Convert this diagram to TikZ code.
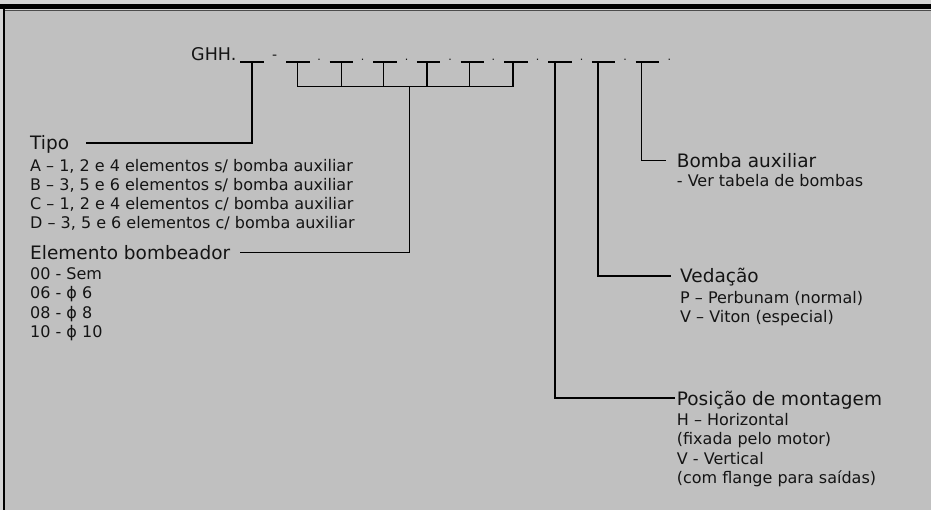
\documentclass[tikz,border=0pt]{standalone}
\usepackage{fontspec}
\setmainfont{DejaVu Sans}
\usetikzlibrary{positioning}
\definecolor{panel}{RGB}{192,192,192}
\definecolor{frame}{RGB}{212,212,212}
\definecolor{ink}{RGB}{20,20,20}

\tikzset{
  conn/.style={line width=1.6pt},
  head/.style={inner sep=0pt, text=ink, font=\fontsize{18.5}{20}\selectfont,
    text height=13.5pt, text depth=0pt, anchor=base west},
  item/.style={inner sep=0pt, text=ink, font=\fontsize{16}{19}\selectfont, anchor=base west},
  sep/.style={inner sep=0pt, text=ink, font=\fontsize{14}{15}\selectfont, anchor=base},
}

\begin{document}
\begin{tikzpicture}[x=1pt,y=-1pt]
\useasboundingbox (0,0) rectangle (931,510);
% window frame
\fill[frame] (0,0) rectangle (931,510);
\fill[panel] (5,10) rectangle (931,510);
\fill[black] (0,4.3) rectangle (931,9.3);
\draw[black!70, line width=1pt] (5,10.5) -- (931,10.5);
\fill[black] (3,9.3) rectangle (5,510);

% code row
\node[inner sep=0pt, text=ink, font=\fontsize{17.5}{18}\selectfont, anchor=base west] (ghh) at (191,61) {GHH.};
\node[sep] (dash) at (274.7,59.5) {-};
\foreach \x [count=\i] in {319,362.7,406.7,450,493.3,537.5,581.7,625,669.3}
  \node[sep, font=\fontsize{11}{12}\selectfont] (dot\i) at (\x,60.5) {.};
\foreach \x [count=\i] in {240,286,329.5,373,416.8,460.5,504.3,548,591.8,635.5}
  \coordinate (slot\i) at (\x,62.3);
\foreach \x [count=\i] in {251.7,297.3,341.3,383.3,426.7,469.3,513,555,598,641.3}
  \coordinate (stem\i) at (\x,62.3);
\foreach \i in {1,...,10}
  \draw[conn] (slot\i) -- ++(23.5,0);
\coordinate (bar) at (409.3,86.7);
\foreach \i in {2,...,7}
  \draw[conn] (stem\i) -- (stem\i |- bar);
\draw[conn] (stem2 |- bar) -- (stem7 |- bar);

% left labels
\node[head] (tipo) at (30,150) {Tipo};
\foreach \t [count=\i] in {{A – 1, 2 e 4 elementos s/ bomba auxiliar},
    {B – 3, 5 e 6 elementos s/ bomba auxiliar},
    {C – 1, 2 e 4 elementos c/ bomba auxiliar},
    {D – 3, 5 e 6 elementos c/ bomba auxiliar}}
  \node[item] (tipo\i) at (30,171.5+19*\i-19) {\t};
\node[head] (elem) at (30,259.3) {Elemento bombeador};
\foreach \t [count=\i] in {00 - Sem, 06 - ϕ 6, 08 - ϕ 8, 10 - ϕ 10}
  \node[item] (elem\i) at (30,279.3+19.5*\i-19.5) {\t};

% right labels
\node[head] (bomba) at (676.7,167.3) {Bomba auxiliar};
\node[item] (bomba1) at (676.7,187) {- Ver tabela de bombas};
\node[head] (vedacao) at (680,282.7) {Vedação};
\node[item] (vedacao1) at (680,303.5) {P – Perbunam (normal)};
\node[item] (vedacao2) at (680,322.5) {V – Viton (especial)};
\node[head] (posicao) at (676.7,405) {Posição de montagem};
\foreach \t [count=\i] in {H – Horizontal, (fixada pelo motor), V - Vertical, (com flange para saídas)}
  \node[item] (posicao\i) at (676.7,425.5+19.3*\i-19.3) {\t};

% connectors
\draw[conn] (stem1) |- ([xshift=17pt]tipo.east);
\draw[conn] (bar) |- ([xshift=10pt]elem.east);
\draw[conn] (stem10) |- ([xshift=-11pt]bomba.west);
\draw[conn] (stem9) |- ([xshift=-9pt]vedacao.west);
\draw[conn] (stem8) |- ([xshift=-1.5pt]posicao.west);
\end{tikzpicture}
\end{document}
